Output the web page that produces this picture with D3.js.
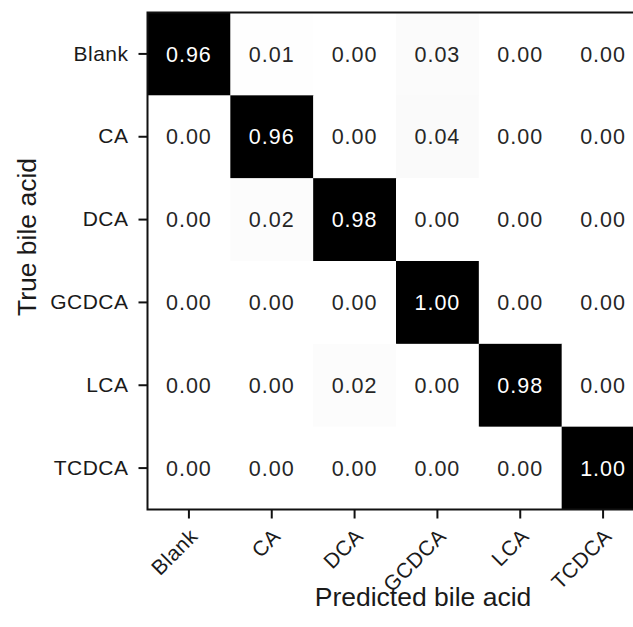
<!DOCTYPE html>
<html>
<head>
<meta charset="utf-8">
<script src="https://cdn.jsdelivr.net/npm/d3@7"></script>
<style>
  body { margin: 0; background: #fff; }
  svg { display: block; font-family: "Liberation Sans", Arial, sans-serif; }
</style>
</head>
<body>
<svg id="graf" width="633" height="627"></svg>
<script>
let clases = ['Blank', 'CA', 'DCA', 'GCDCA', 'LCA', 'TCDCA']

// rows = true class, columns = predicted class
let filaBlank = [0.96, 0.01, 0.00, 0.03, 0.00, 0.00]
let filaCA    = [0.00, 0.96, 0.00, 0.04, 0.00, 0.00]
let filaDCA   = [0.00, 0.02, 0.98, 0.00, 0.00, 0.00]
let filaGCDCA = [0.00, 0.00, 0.00, 1.00, 0.00, 0.00]
let filaLCA   = [0.00, 0.00, 0.02, 0.00, 0.98, 0.00]
let filaTCDCA = [0.00, 0.00, 0.00, 0.00, 0.00, 1.00]

let filas = [filaBlank, filaCA, filaDCA, filaGCDCA, filaLCA, filaTCDCA]

function graficar() {
  let left = 147.5
  let top = 12.5
  let size = 497

  let celdas = []
  filas.forEach((fila, i) => {
    fila.forEach((v, j) => {
      celdas.push({ real: clases[i], pred: clases[j], valor: v })
    })
  })

  let x = d3.scaleBand().domain(clases).range([left, left + size])
  let y = d3.scaleBand().domain(clases).range([top, top + size])
  let color = d3.scaleSequential(d3.interpolateGreys).domain([0, 0.96]).clamp(true)

  let svg = d3.select('#graf')

  let g = svg.selectAll('g.celda')
    .data(celdas)
    .enter().append('g')
    .attr('class', 'celda')

  g.append('rect')
    .attr('x', d => x(d.pred))
    .attr('y', d => y(d.real))
    .attr('width', x.bandwidth() + 0.5)
    .attr('height', y.bandwidth() + 0.5)
    .style('fill', d => color(d.valor))

  g.append('text')
    .attr('x', d => x(d.pred) + x.bandwidth() / 2)
    .attr('y', d => y(d.real) + y.bandwidth() / 2)
    .attr('dy', '0.36em')
    .attr('text-anchor', 'middle')
    .style('font-size', '21.5px')
    .style('letter-spacing', '1px')
    .style('fill', d => d.valor > 0.5 ? '#ffffff' : '#262626')
    .text(d => d.valor.toFixed(2))

  // frame
  svg.append('rect')
    .attr('x', left)
    .attr('y', top)
    .attr('width', size)
    .attr('height', size)
    .style('fill', 'none')
    .style('stroke', '#111')
    .style('stroke-width', 2)

  let ejeY = svg.append('g')
    .attr('transform', `translate(${left}, 0)`)
    .call(d3.axisLeft(y).tickSize(9).tickPadding(10))
  ejeY.select('.domain').remove()
  ejeY.selectAll('line').style('stroke', '#111').style('stroke-width', 2)
  ejeY.selectAll('text')
    .style('font-size', '21px')
    .style('letter-spacing', '0.5px')
    .style('fill', '#1a1a1a')

  let ejeX = svg.append('g')
    .attr('transform', `translate(0, ${top + size})`)
    .call(d3.axisBottom(x).tickSize(9))
  ejeX.select('.domain').remove()
  ejeX.selectAll('line').style('stroke', '#111').style('stroke-width', 2)
  ejeX.selectAll('text')
    .style('font-size', '21px')
    .style('letter-spacing', '0.5px')
    .style('fill', '#1a1a1a')
    .attr('text-anchor', 'end')
    .attr('dy', null)
    .attr('y', null)
    .attr('transform', 'translate(10, 28) rotate(-45)')

  svg.append('text')
    .attr('x', 423)
    .attr('y', 606)
    .attr('text-anchor', 'middle')
    .style('font-size', '26.5px')
    .style('fill', '#1a1a1a')
    .text('Predicted bile acid')

  svg.append('text')
    .attr('transform', 'translate(36, 237) rotate(-90)')
    .attr('text-anchor', 'middle')
    .style('font-size', '26.5px')
    .style('fill', '#1a1a1a')
    .text('True bile acid')
}

graficar()
</script>
</body>
</html>
